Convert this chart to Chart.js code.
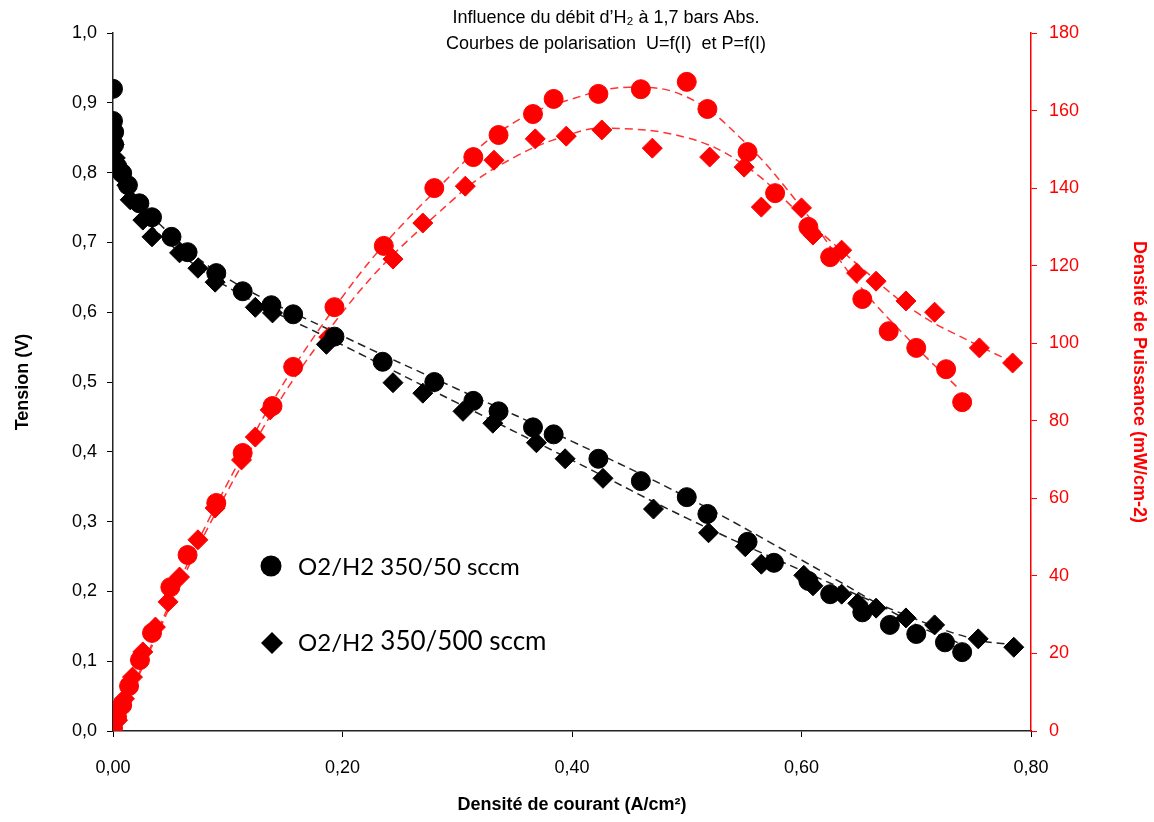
<!DOCTYPE html>
<html>
<head>
<meta charset="utf-8">
<script src="https://cdn.jsdelivr.net/npm/chart.js@4/dist/chart.umd.min.js"></script>
<style>
  html, body { margin: 0; padding: 0; background: #fff; }
  #wrap { width: 1154px; height: 822px; }
</style>
</head>
<body>
<div id="wrap"><canvas id="polChart" width="1154" height="822"></canvas></div>
<script>
// O2/H2 350/50 sccm - tension (V)
const i50 = [0.000, 0.000, 0.001, 0.001, 0.004, 0.008, 0.013, 0.023, 0.034, 0.051, 0.065, 0.090, 0.113, 0.138, 0.157, 0.193, 0.235, 0.280, 0.314, 0.336, 0.366, 0.384, 0.423, 0.460, 0.500, 0.518, 0.553, 0.576, 0.606, 0.625, 0.653, 0.677, 0.700, 0.725, 0.740];
const u50 = [0.920, 0.874, 0.858, 0.840, 0.808, 0.799, 0.782, 0.756, 0.736, 0.708, 0.686, 0.656, 0.630, 0.610, 0.597, 0.565, 0.529, 0.500, 0.473, 0.458, 0.435, 0.425, 0.390, 0.358, 0.335, 0.311, 0.271, 0.241, 0.215, 0.196, 0.170, 0.152, 0.139, 0.127, 0.113];

// O2/H2 350/500 sccm - tension (V)
const i500 = [0.000, 0.001, 0.002, 0.003, 0.012, 0.015, 0.026, 0.034, 0.058, 0.074, 0.089, 0.124, 0.139, 0.186, 0.244, 0.270, 0.305, 0.331, 0.369, 0.394, 0.427, 0.471, 0.519, 0.551, 0.565, 0.602, 0.610, 0.635, 0.649, 0.665, 0.691, 0.716, 0.754, 0.785];
const u500 = [0.860, 0.840, 0.821, 0.804, 0.782, 0.761, 0.732, 0.708, 0.685, 0.663, 0.643, 0.607, 0.599, 0.554, 0.499, 0.484, 0.458, 0.441, 0.413, 0.390, 0.362, 0.318, 0.284, 0.264, 0.239, 0.223, 0.208, 0.196, 0.183, 0.176, 0.162, 0.152, 0.132, 0.120];

// power density (mW/cm2)
const iP50 = [0.000, 0.0035, 0.008, 0.014, 0.0235, 0.034, 0.050, 0.065, 0.090, 0.113, 0.139, 0.157, 0.193, 0.236, 0.280, 0.314, 0.336, 0.366, 0.384, 0.423, 0.460, 0.500, 0.518, 0.553, 0.577, 0.606, 0.625, 0.653, 0.676, 0.700, 0.726, 0.740];
const p50 = [0.8, 3.6, 6.7, 11.6, 18.3, 25.3, 37.1, 45.4, 58.8, 71.7, 83.8, 93.9, 109.3, 125.1, 140.0, 148.0, 153.7, 159.1, 163.0, 164.3, 165.5, 167.4, 160.4, 149.3, 138.7, 130.0, 122.2, 111.4, 103.1, 98.8, 93.3, 84.8];
const iP500 = [0.004, 0.010, 0.017, 0.026, 0.037, 0.048, 0.058, 0.074, 0.089, 0.112, 0.124, 0.137, 0.188, 0.244, 0.270, 0.307, 0.332, 0.368, 0.395, 0.426, 0.470, 0.520, 0.550, 0.565, 0.600, 0.610, 0.635, 0.648, 0.665, 0.691, 0.716, 0.755, 0.784];
const p500 = [2.8, 8.3, 13.9, 20.4, 26.8, 33.3, 39.7, 49.3, 57.5, 69.9, 75.8, 82.8, 101.6, 121.7, 131.0, 140.5, 147.2, 152.7, 153.4, 155.0, 150.3, 148.0, 145.4, 135.1, 134.9, 127.9, 124.0, 118.1, 116.0, 110.9, 108.0, 98.8, 94.9];

// dashed trend curves
const trU50x = [0.003, 0.02, 0.05, 0.10, 0.20, 0.30, 0.40, 0.50, 0.60, 0.70, 0.737];
const trU50y = [0.820, 0.765, 0.712, 0.648, 0.566, 0.490, 0.415, 0.335, 0.245, 0.152, 0.126];
const trU500x = [0.003, 0.02, 0.05, 0.10, 0.20, 0.30, 0.40, 0.50, 0.60, 0.70, 0.75, 0.785];
const trU500y = [0.805, 0.752, 0.697, 0.636, 0.553, 0.470, 0.388, 0.305, 0.230, 0.160, 0.132, 0.123];
const trP50x = [0.003, 0.10, 0.20, 0.30, 0.35, 0.40, 0.45, 0.50, 0.55, 0.60, 0.65, 0.70, 0.738];
const trP50y = [2, 64, 112, 145, 157, 163, 166, 163.5, 152, 135, 115, 99, 88];
const trP500x = [0.003, 0.10, 0.20, 0.30, 0.35, 0.40, 0.43, 0.50, 0.55, 0.60, 0.65, 0.70, 0.75, 0.785];
const trP500y = [2, 62, 108, 138, 148, 154, 155.5, 153, 146, 133, 120, 108, 100, 95];

const pts = (xs, ys) => xs.map((x, i) => ({ x: x, y: ys[i] }));
const comma = (v, d) => Number(v).toFixed(d).replace('.', ',');
const FONT = "'Liberation Sans', Arial, sans-serif";

function trend(xs, ys, color, axis) {
    return {
        type: 'line',
        data: pts(xs, ys),
        yAxisID: axis,
        showLine: true,
        borderColor: color,
        borderWidth: 1.5,
        borderDash: [8, 5],
        pointRadius: 0,
        tension: 0.4,
        fill: false
    };
}

// title + in-plot legend
const overlay = {
    id: 'overlay',
    afterDraw(chart) {
        const c = chart.ctx;
        c.save();
        c.fillStyle = '#000';
        c.textAlign = 'center';
        c.textBaseline = 'middle';
        c.font = '18px ' + FONT;
        c.fillText("Influence du débit d’H₂ à 1,7 bars Abs.", 606, 18);
        c.fillText('Courbes de polarisation  U=f(I)  et P=f(I)', 606, 44);

        c.beginPath();
        c.arc(271, 566, 10.5, 0, Math.PI * 2);
        c.fill();
        c.beginPath();
        c.moveTo(272, 632); c.lineTo(283, 643); c.lineTo(272, 654); c.lineTo(261, 643);
        c.closePath();
        c.fill();
        c.textAlign = 'left';
        c.font = '24px Lato, sans-serif';
        c.fillText('O2/H2 350/50 sccm', 298, 567);
        c.fillText('O2/H2 ', 298, 643);
        const w = c.measureText('O2/H2 ').width;
        c.font = '26px Lato, sans-serif';
        c.fillText('350/500 sccm', 298 + w, 642);
        c.restore();
    }
};

new Chart(document.getElementById('polChart').getContext('2d'), {
    type: 'scatter',
    data: {
        datasets: [
            { label: 'O2/H2 350/50 sccm', data: pts(i50, u50), yAxisID: 'y', pointStyle: 'circle', pointRadius: 9.5, backgroundColor: '#000', borderColor: '#000' },
            { label: 'O2/H2 350/500 sccm', data: pts(i500, u500), yAxisID: 'y', pointStyle: 'rectRot', pointRadius: 10, backgroundColor: '#000', borderColor: '#000' },
            { label: 'P 350/50', data: pts(iP50, p50), yAxisID: 'y1', pointStyle: 'circle', pointRadius: 9.5, backgroundColor: '#ff0000', borderColor: '#ff0000' },
            { label: 'P 350/500', data: pts(iP500, p500), yAxisID: 'y1', pointStyle: 'rectRot', pointRadius: 10, backgroundColor: '#ff0000', borderColor: '#ff0000' },
            trend(trU50x, trU50y, '#222', 'y'),
            trend(trU500x, trU500y, '#222', 'y'),
            trend(trP50x, trP50y, '#ff3333', 'y1'),
            trend(trP500x, trP500y, '#ff3333', 'y1')
        ]
    },
    options: {
        responsive: false,
        animation: false,
        layout: { padding: { top: 33, left: 0, right: 0, bottom: 0 } },
        plugins: { legend: { display: false }, tooltip: { enabled: false } },
        scales: {
            x: {
                type: 'linear',
                min: 0, max: 0.8,
                afterFit: s => { s.height = 91; },
                ticks: { stepSize: 0.2, padding: 20, color: '#000', font: { family: FONT, size: 18 }, callback: v => comma(v, 2) },
                grid: { drawOnChartArea: false, color: '#000', tickLength: 6 },
                border: { color: '#222', width: 1.5 },
                title: { display: true, text: 'Densité de courant (A/cm²)', color: '#000', font: { family: FONT, size: 18, weight: 'bold' }, padding: { top: 0, bottom: 6 } }
            },
            y: {
                type: 'linear',
                position: 'left',
                min: 0, max: 1,
                afterFit: s => { s.width = 113; },
                ticks: { stepSize: 0.1, padding: 10, color: '#000', font: { family: FONT, size: 18 }, callback: v => comma(v, 1) },
                grid: { drawOnChartArea: false, color: '#000', tickLength: 6 },
                border: { color: '#222', width: 1.5 },
                title: { display: true, text: 'Tension (V)', color: '#000', font: { family: FONT, size: 18, weight: 'bold' }, padding: { top: 12, bottom: 0 } }
            },
            y1: {
                type: 'linear',
                position: 'right',
                min: 0, max: 180,
                afterFit: s => { s.width = 123; },
                ticks: { stepSize: 20, padding: 12, color: '#ff0000', font: { family: FONT, size: 18 } },
                grid: { drawOnChartArea: false, color: '#ff0000', tickLength: 6 },
                border: { color: '#ff0000', width: 1.5 },
                title: { display: true, text: 'Densité de Puissance (mW/cm-2)', color: '#ff0000', font: { family: FONT, size: 18, weight: 'bold' }, padding: { top: 4, bottom: 0 } }
            }
        }
    },
    plugins: [overlay]
});
</script>
</body>
</html>
